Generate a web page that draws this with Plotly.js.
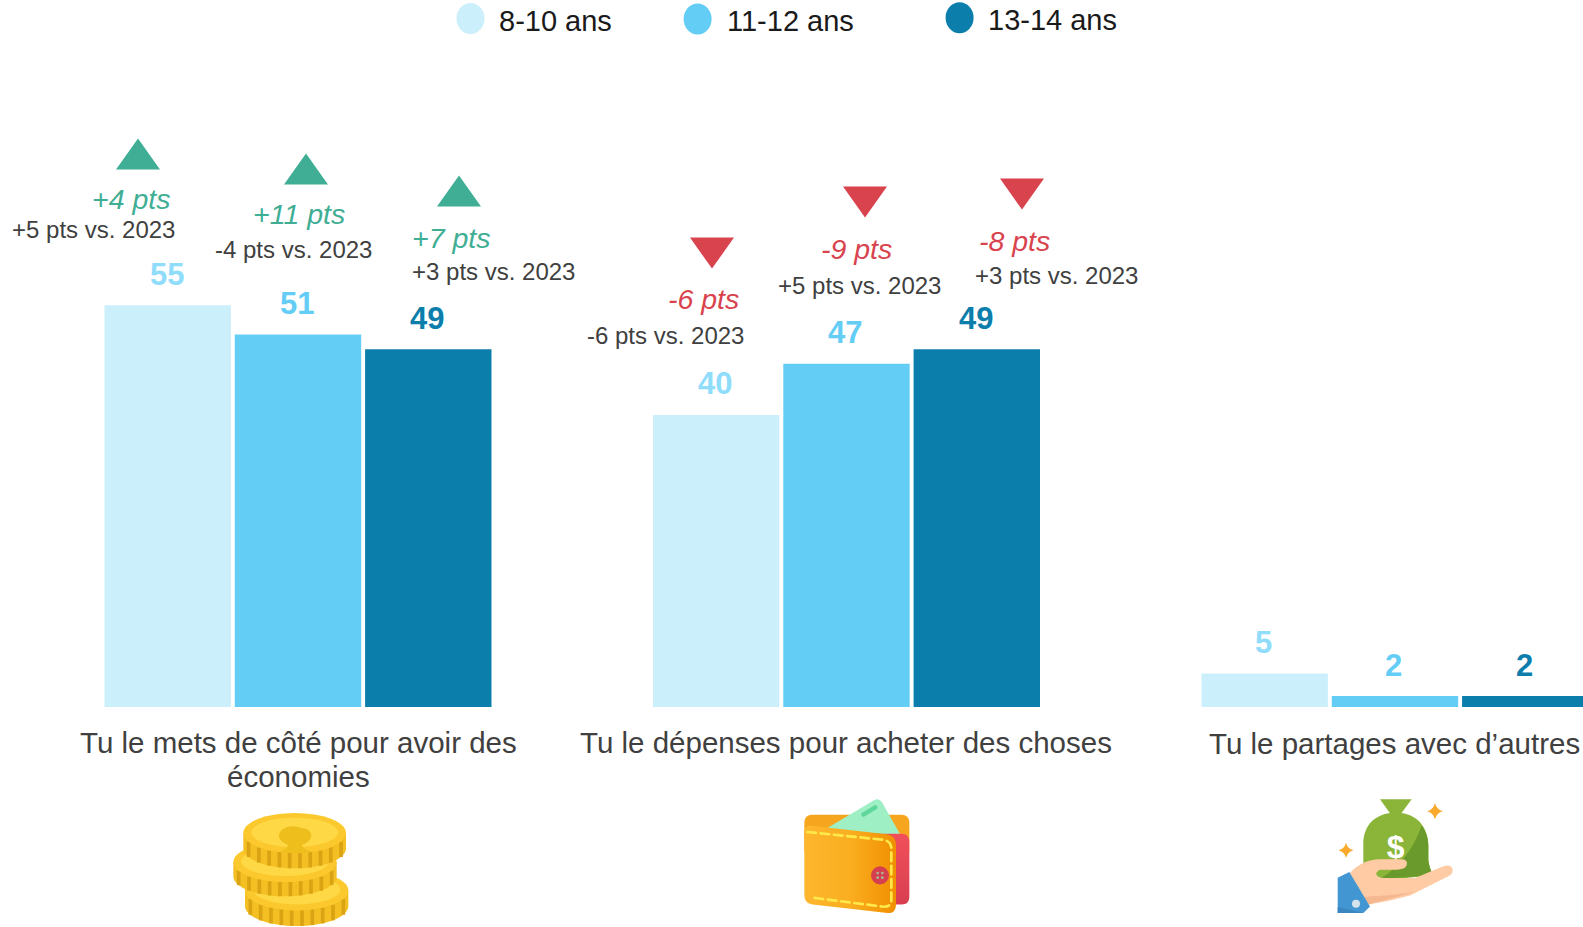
<!DOCTYPE html>
<html>
<head>
<meta charset="utf-8">
<script src="https://cdn.plot.ly/plotly-3.0.1.min.js"></script>
<style>html,body{margin:0;padding:0;background:#fff}#chart{width:1583px;height:927px}</style>
</head>
<body>
<div id="chart"></div>
<script>
// ---------- data ----------
const categories = ["Tu le mets de côté pour avoir des économies", "Tu le dépenses pour acheter des choses", "Tu le partages avec d’autres"];
const categoryLines = [["Tu le mets de côté pour avoir des", "économies"], ["Tu le dépenses pour acheter des choses"], ["Tu le partages avec d’autres"]];
const seriesNames = ["8-10 ans", "11-12 ans", "13-14 ans"];
// bar heights (third group sits below its rounded label)
const values8to10 = [55, 40, 4.6];
const values11to12 = [51, 47, 1.5];
const values13to14 = [49, 49, 1.5];
// printed labels
const labels8to10 = ["55", "40", "5"];
const labels11to12 = ["51", "47", "2"];
const labels13to14 = ["49", "49", "2"];
const deltaTexts = ["+4 pts", "+11 pts", "+7 pts", "-6 pts", "-9 pts", "-8 pts"];
const vs2023Texts = ["+5 pts vs. 2023", "-4 pts vs. 2023", "+3 pts vs. 2023", "-6 pts vs. 2023", "+5 pts vs. 2023", "+3 pts vs. 2023"];

// ---------- style ----------
const W = 1583, H = 927, BASE = 706.7;
const barColors = ["#CBEFFB", "#63CDF6", "#0C7EAC"];
const labelColors = ["#8FDDFB", "#63CDF6", "#0C7EAC"];
const GREEN = "#3FAE94", RED = "#D9434E", DARK = "#404040";
const FONT = "Liberation Sans, Arial, sans-serif";
const px = x => x / W;
const py = y => (BASE - y) / BASE;
const STEP = 0.2376;

// ---------- positions of the comparison call-outs (page pixels) ----------
const deltaPos = [[130.5,199],[298.5,214],[451.5,237.5],[703.5,299],[856.5,248.5],[1014.5,240.5]];
const vsPos = [[93,229],[293,249.5],[493,271],[665.5,335.5],[860,285],[1056,275]];
const triPos = [[138,154,1],[306,169,1],[459,191,1],[712,253,-1],[865,202,-1],[1022,194,-1]];
const legendPos = [[470.5,18.5,496.5,20.5],[697.6,19,725,20.5],[959.6,17.7,986.4,19.5]];
const categoryLineY = [[742,776.5],[742],[743]];

// ---------- traces ----------
const allValues = [values8to10, values11to12, values13to14];
const allLabels = [labels8to10, labels11to12, labels13to14];
const traces = seriesNames.map((n, i) => ({
  type: "bar", name: n, x: categories, y: allValues[i],
  marker: {color: barColors[i], line: {width: 0}}, hoverinfo: "x+y+name"
}));

// ---------- annotations ----------
const annotations = [];
allLabels.forEach((arr, s) => arr.forEach((t, c) => annotations.push({
  xref: "x", yref: "y", x: c + (s - 1) * STEP, y: allValues[s][c], yshift: 31, xshift: -1,
  text: "<b>" + t + "</b>", showarrow: false, xanchor: "center", yanchor: "middle",
  font: {family: FONT, size: 31, color: labelColors[s]}
})));
deltaTexts.forEach((t, i) => {
  annotations.push({xref:"paper", yref:"paper", x:px(deltaPos[i][0]), y:py(deltaPos[i][1]),
    text:"<i>"+t+"</i>", showarrow:false, xanchor:"center", yanchor:"middle",
    font:{family:FONT, size:28.5, color: i < 3 ? GREEN : RED}});
  annotations.push({xref:"paper", yref:"paper", x:px(vsPos[i][0]), y:py(vsPos[i][1]),
    text:vs2023Texts[i], showarrow:false, xanchor:"center", yanchor:"middle",
    font:{family:FONT, size:24, color:DARK}});
});
seriesNames.forEach((n, i) => annotations.push({xref:"paper", yref:"paper",
  x:px(legendPos[i][2]), y:py(legendPos[i][3]), text:n, showarrow:false, xanchor:"left", yanchor:"middle",
  font:{family:FONT, size:29, color:"#1A1A1A"}}));
categoryLines.forEach((lines, c) => lines.forEach((t, l) => annotations.push({
  xref:"x", yref:"paper", x:c, y:py(categoryLineY[c][l]), text:t, showarrow:false,
  xanchor:"center", yanchor:"middle", font:{family:FONT, size:29.5, color:DARK}})));

// ---------- shapes ----------
const shapes = [];
triPos.forEach(([cx, cy, dir]) => {
  const hw = 22, hh = 15.5 * dir;
  shapes.push({type:"path", xref:"paper", yref:"paper", line:{width:0}, fillcolor: dir > 0 ? GREEN : RED,
    path:`M ${px(cx-hw)} ${py(cy+hh)} L ${px(cx+hw)} ${py(cy+hh)} L ${px(cx)} ${py(cy-hh)} Z`});
});
legendPos.forEach((p, i) => shapes.push({type:"circle", xref:"paper", yref:"paper", line:{width:0},
  fillcolor:barColors[i], x0:px(p[0]-14), x1:px(p[0]+14), y0:py(p[1]+15.5), y1:py(p[1]-15.5)}));

// ---------- icons ----------
function svgUri(body){
  return "data:image/svg+xml," + encodeURIComponent(
    '<svg xmlns="http://www.w3.org/2000/svg" viewBox="0 0 540 441" width="540" height="441">' + body + '</svg>');
}
function coin(cx, cy, rx, ry, h, top, rim){
  let s = `<path d="M${cx-rx} ${cy} v${h} a${rx} ${ry} 0 0 0 ${2*rx} 0 v${-h} z" fill="#F3BF22"/>`;
  for(let k=-0.9;k<=0.91;k+=0.2){
    const x = cx + k*rx, y = cy + ry*Math.sqrt(1-k*k);
    s += `<rect x="${x-5}" y="${y}" width="11" height="${h}" fill="#D9A313"/>`;
  }
  s += `<ellipse cx="${cx}" cy="${cy}" rx="${rx}" ry="${ry}" fill="${rim}"/>`;
  s += `<ellipse cx="${cx}" cy="${cy-2}" rx="${rx-24}" ry="${ry-16}" fill="${top}"/>`;
  return s;
}
const coinsSvg = svgUri(
  coin(290,330,155,60,47,"#FFD845","#FBC92D") +
  coin(255,245,155,60,43,"#FFD845","#FBC92D") +
  coin(284,158,154,60,46,"#FFD845","#FBC92D") +
  '<path d="M262 140 q22 -6 40 2 q30 2 32 24 q-2 18 -28 28 q4 14 30 20 q-50 10 -98 0 q24 -8 26 -20 q-28 -12 -28 -30 q6 -18 26 -24z" fill="#EDBE1C"/>'
);
const walletSvg = svgUri(
  '<defs><linearGradient id="o" x1="0" x2="1" y1="0" y2="0"><stop offset="0" stop-color="#FDB62E"/><stop offset="0.5" stop-color="#FAAE20"/><stop offset="1" stop-color="#F08F00"/></linearGradient>' +
  '<linearGradient id="r" x1="0" x2="0" y1="0" y2="1"><stop offset="0" stop-color="#F0505A"/><stop offset="1" stop-color="#D93E50"/></linearGradient></defs>' +
  '<rect x="103" y="103" width="315" height="130" rx="22" fill="#F6A61E"/>' +
  '<path d="M172 143 L312 60 Q326 52 336 66 L392 165 L300 170z" fill="#9FEFC5"/>' +
  '<path d="M280 103 L316 81" stroke="#5FD69A" stroke-width="13" stroke-linecap="round"/>' +
  '<path d="M300 160 H398 Q418 162 418 185 V350 Q418 372 395 372 H300z" fill="url(#r)"/>' +
  '<path d="M103 155 Q103 132 126 136 L350 162 Q378 166 378 192 V372 Q378 400 352 398 L128 372 Q103 368 103 345z" fill="url(#o)"/>' +
  '<path d="M112 155 L338 178 Q364 182 364 205 V362 Q362 380 340 379 L122 351" fill="none" stroke="#FFE94A" stroke-width="8" stroke-dasharray="26 14" stroke-linecap="round"/>' +
  '<circle cx="330" cy="285" r="27" fill="#D6404E"/>' +
  '<g fill="#A7B8A0"><circle cx="323" cy="278" r="4"/><circle cx="337" cy="278" r="4"/><circle cx="323" cy="292" r="4"/><circle cx="337" cy="292" r="4"/></g>'
);
function star(cx, cy, r){
  const q = r * 0.2;
  return `<path d="M${cx} ${cy-r} Q${cx+q} ${cy-q} ${cx+r} ${cy} Q${cx+q} ${cy+q} ${cx} ${cy+r} Q${cx-q} ${cy+q} ${cx-r} ${cy} Q${cx-q} ${cy-q} ${cx} ${cy-r}z" fill="#F9A92B"/>`;
}
const bagSvg = svgUri(
  '<path d="M240 57 H335 L303 100 H271z" fill="#8BB539"/>' +
  '<path d="M271 98 H303 C360 105 385 150 385 195 V240 Q388 265 400 285 L250 300 L190 260 V190 C190 145 215 105 271 98z" fill="#8BB539"/>' +
  '<path d="M365 135 Q385 165 385 195 V240 Q388 265 400 285 L240 296 Q330 240 365 135z" fill="#6A9A2B"/>' +
  '<text x="287" y="232" font-family="Liberation Sans, Arial, sans-serif" font-weight="700" font-size="96" fill="#fff" text-anchor="middle">$</text>' +
  star(405,93,24) + star(138,210,23) +
  '<path d="M148 280 C175 250 205 238 240 237 H305 Q325 238 320 255 Q315 268 290 268 H240 Q225 275 230 285 Q235 294 255 293 H345 L430 258 Q452 250 458 266 Q460 280 445 288 L330 345 Q270 362 205 372z" fill="#FFCBA4"/>' +
  '<path d="M190 350 Q280 345 345 335 L205 372z" fill="#F5B78F"/>' +
  '<path d="M113 292 L148 275 L210 378 L190 398 H113z" fill="#4296D2"/>' +
  '<path d="M113 380 L190 398 H113z" fill="#3A86C0"/>' +
  '<circle cx="168" cy="370" r="12" fill="#D7E3EC"/>'
);
const iconBoxes = [[coinsSvg,200],[walletSvg,770],[bagSvg,1300]];
const images = iconBoxes.map(([src, x]) => ({
  source: src, xref:"paper", yref:"paper", x:px(x), y:py(780), sizex:180/W, sizey:147/BASE,
  sizing:"stretch", xanchor:"left", yanchor:"top", layer:"above"
}));

// ---------- layout ----------
const layout = {
  width: W, height: H, margin: {l:0, r:0, t:0, b:H-BASE, pad:0},
  paper_bgcolor:"#fff", plot_bgcolor:"#fff", showlegend:false,
  barmode:"group", bargap:0.2873, bargroupgap:0.03,
  font:{family:FONT},
  xaxis:{type:"category", range:[-0.5433, 2.3428], showgrid:false, zeroline:false, showline:false,
    ticks:"", showticklabels:false, automargin:false},
  yaxis:{range:[0, BASE/7.3], visible:false, showgrid:false, zeroline:false, fixedrange:true},
  annotations, shapes, images
};
Plotly.newPlot("chart", traces, layout, {displayModeBar:false});
</script>
</body>
</html>
